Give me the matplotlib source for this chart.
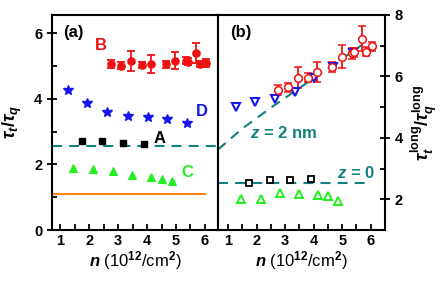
import numpy as np
import matplotlib
matplotlib.use("Agg")
import matplotlib.pyplot as plt

plt.rcParams['font.family'] = ['Liberation Sans', 'DejaVu Sans']
plt.rcParams['font.weight'] = 'bold'
plt.rcParams['mathtext.fontset'] = 'custom'
plt.rcParams['mathtext.rm'] = 'Liberation Sans:bold'
plt.rcParams['mathtext.it'] = 'Liberation Sans:italic:bold'
plt.rcParams['mathtext.bf'] = 'Liberation Sans:bold'

# ---------------------------------------------------------------- data ---- #
# B (filled, panel a) / long (open, panel b) : same densities
n_B = [2.75, 3.10, 3.44, 3.82, 4.13, 4.64, 4.98, 5.33, 5.42, 5.69, 5.83, 6.03]
ratio_B = [5.06, 5.01, 5.15, 5.03, 5.06, 5.05, 5.16, 5.16, 5.13, 5.39, 5.06, 5.08]
err_B = [0.12, 0.10, 0.30, 0.10, 0.27, 0.10, 0.27, 0.10, 0.10, 0.30, 0.10, 0.12]
long_B = [5.55, 5.64, 5.96, 5.96, 6.15, 6.31, 6.64, 6.75, 6.78, 7.23, 6.80, 6.98]
lerr_B = [0.17, 0.15, 0.35, 0.14, 0.33, 0.15, 0.38, 0.18, 0.15, 0.40, 0.15, 0.15]

n_D = [1.28, 1.93, 2.63, 3.33, 4.03, 4.69, 5.38]
ratio_D = [4.28, 3.88, 3.60, 3.47, 3.44, 3.37, 3.27]
long_D = [5.01, 5.17, 5.28, 5.50, 5.96, 6.31, 6.75]

n_A = [1.75, 2.46, 3.16, 3.90]
ratio_A = [2.70, 2.70, 2.65, 2.62]
long_A = [2.53, 2.62, 2.64, 2.67]

n_C = [1.46, 2.15, 2.82, 3.48, 4.14, 4.52, 4.86]
ratio_C = [1.90, 1.87, 1.79, 1.69, 1.62, 1.55, 1.49]
long_C = [2.02, 2.02, 2.22, 2.16, 2.13, 2.10, 1.95]

# model curves
level_a = 2.55
level_orange = 1.09
level_z0 = 2.52
n_z2 = [0.65, 1.5, 2.5, 3.5, 4.5, 5.7]
long_z2 = [3.62, 4.30, 4.98, 5.62, 6.26, 7.03]

red = '#ee1111'
blue = '#1515ee'
green = '#22ee22'
teal = '#138080'
orange = '#ff7f0e'

# ---------------------------------------------------------------- plot ---- #
fig = plt.figure(figsize=(4.42, 2.82), dpi=100)
axa = fig.add_axes([52/442, 52/282, 166/442, 215/282])
axb = fig.add_axes([218/442, 52/282, 167/442, 215/282])

dash = (4.8, 3.4)

# panel (a)
axa.plot([0.72, 6.45], [level_a]*2, color=teal, lw=1.5, dashes=dash)
axa.plot([0.72, 6.0], [level_orange]*2, color=orange, lw=1.5)
axa.errorbar(n_B, ratio_B, yerr=err_B, fmt='o', color=red, ms=5.2,
             elinewidth=1.3, capsize=3, capthick=1.3)
axa.plot(n_D, ratio_D, '*', color=blue, mec=blue, mew=1.0, ms=7)
axa.plot(n_A, ratio_A, 's', color='black', ms=4.5)
axa.plot(n_C, ratio_C, '^', color=green, mec=green, mew=0.8, ms=5.5)

axa.text(0.07, 0.92, '(a)', transform=axa.transAxes, fontsize=12,
         ha='left', va='center')
axa.text(2.4, 5.63, 'B', color=red, fontsize=12, ha='center', va='center')
axa.text(5.9, 3.6, 'D', color=blue, fontsize=12, ha='center', va='center')
axa.text(4.45, 2.78, 'A', color='black', fontsize=12, ha='center', va='center')
axa.text(5.4, 1.75, 'C', color=green, fontsize=12, ha='center', va='center')

axa.set_xlim(0.72, 6.45)
axa.set_ylim(0, 6.55)
axa.set_xticks(range(1, 7))
axa.set_xticks(np.arange(1.5, 6.5, 1), minor=True)
axa.set_yticks([0, 2, 4, 6])
axa.set_yticks([1, 3, 5], minor=True)
axa.tick_params(axis='x', which='both', direction='in', length=4, width=1.3,
                labelsize=10.5, pad=3, top=False)
axa.tick_params(axis='y', which='major', direction='inout', length=7, width=1.3,
                labelsize=10.5, right=False)
axa.tick_params(axis='y', which='minor', direction='in', length=3.5, width=1.3,
                right=False)
axa.set_xlabel(r'$n$ (10$^{12}$/cm$^{2}$)', fontsize=12, labelpad=1)
axa.set_ylabel(r'$\tau_t/\tau_q$', fontsize=13, labelpad=7)

# panel (b)
axb.plot(n_z2, long_z2, color=teal, lw=1.5, dashes=dash)
axb.plot([0.65, 6.02], [level_z0]*2, color=teal, lw=1.5, dashes=dash)
axb.errorbar(n_B, long_B, yerr=lerr_B, fmt='o', color=red, mfc='white', ms=5.5,
             mew=1.1, elinewidth=1.3, capsize=3, capthick=1.3)
axb.plot(n_D, long_D, 'v', color=blue, mfc='white', mew=1.5, ms=6)
axb.plot(n_A, long_A, 's', color='black', mfc='white', mew=1.3, ms=4.5)
axb.plot(n_C, long_C, '^', color=green, mfc='white', mew=1.4, ms=5.5)

axb.text(0.07, 0.92, '(b)', transform=axb.transAxes, fontsize=12,
         ha='left', va='center')
axb.text(2.95, 4.15, r'$z$ = 2 nm', color=teal, fontsize=12,
         ha='center', va='center')
axb.text(5.48, 2.86, r'$z$ = 0', color=teal, fontsize=12,
         ha='center', va='center')

axb.set_xlim(0.65, 6.5)
axb.set_ylim(1, 8)
axb.set_xticks(range(1, 7))
axb.set_xticks(np.arange(1.5, 6.5, 1), minor=True)
axb.set_yticks([2, 4, 6, 8])
axb.set_yticks([3, 5, 7], minor=True)
axb.yaxis.tick_right()
axb.yaxis.set_label_position('right')
axb.tick_params(axis='x', which='both', direction='in', length=4, width=1.3,
                labelsize=10.5, pad=3, top=False)
axb.tick_params(axis='y', which='major', direction='inout', length=7, width=1.3,
                labelsize=10.5, left=False)
axb.tick_params(axis='y', which='minor', direction='in', length=3.5, width=1.3,
                left=False)
axb.set_xlabel(r'$n$ (10$^{12}$/cm$^{2}$)', fontsize=12, labelpad=1)
axb.set_ylabel(r'$\tau_t^{\rm long}/\tau_q^{\rm long}$', fontsize=13,
               rotation=90, labelpad=4)

for ax in (axa, axb):
    for s in ax.spines.values():
        s.set_linewidth(1.5)

fig.savefig('out.png', dpi=100)
